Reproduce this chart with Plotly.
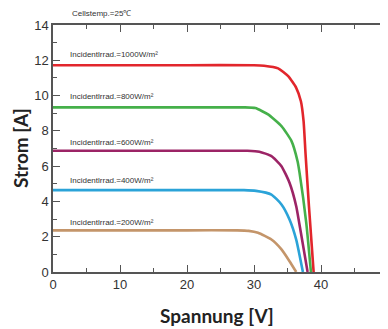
import plotly.graph_objects as go

# Data: voltage [V], current [A]
labels = ["1000", "800", "600", "400", "200"]
v_1000 = [0, 10, 20, 30.0, 31.5, 33.6, 35.1, 36.3, 37.0, 37.4, 37.7, 38.2, 38.9]
i_1000 = [11.72, 11.72, 11.72, 11.72, 11.69, 11.54, 11.1, 10.44, 9.68, 8.55, 6.66, 3.73, 0]
v_800 = [0, 10, 20, 28.5, 30.2, 32.1, 34.1, 35.6, 36.5, 36.8, 37.8, 38.5]
i_800 = [9.33, 9.33, 9.33, 9.33, 9.29, 8.93, 8.27, 7.42, 6.28, 5.62, 2.79, 0]
v_600 = [0, 10, 20, 29.0, 30.8, 32.6, 34.1, 35.3, 36.3, 37.0, 38.0]
i_600 = [6.87, 6.87, 6.87, 6.87, 6.82, 6.57, 6.0, 5.06, 3.73, 2.22, 0]
v_400 = [0, 10, 20, 28.5, 30.3, 32.6, 34.1, 35.3, 36.3, 37.3]
i_400 = [4.64, 4.64, 4.64, 4.64, 4.60, 4.39, 3.83, 2.98, 1.84, 0]
v_200 = [0, 10, 20, 27.5, 29.2, 30.6, 32.6, 34.1, 35.3, 36.3]
i_200 = [2.36, 2.36, 2.36, 2.36, 2.33, 2.22, 1.84, 1.28, 0.61, 0]
label_y = [12.33, 9.95, 7.32, 5.19, 2.79]

series = [
    (v_1000, i_1000, "#e2262c"),
    (v_800, i_800, "#45b04a"),
    (v_600, i_600, "#9c2466"),
    (v_400, i_400, "#2ba3d8"),
    (v_200, i_200, "#c4956a"),
]

fig = go.Figure()
for (v, i, c), lab in zip(series, labels):
    fig.add_trace(go.Scatter(x=v, y=i, mode="lines", line=dict(color=c, width=2.6, shape="spline", smoothing=0.5),
                             name=lab, showlegend=False, hoverinfo="skip"))

for lab, ly in zip(labels, label_y):
    fig.add_annotation(x=2.2, y=ly, xref="x", yref="y", text=f"Incidentlrrad.={lab}W/m²",
                       showarrow=False, xanchor="left", yanchor="middle",
                       font=dict(family="Liberation Sans, Arial", size=8, color="#333"))

axis_common = dict(showline=True, linecolor="#555", linewidth=1.5, mirror="ticks", ticks="inside",
                   tickcolor="#555", tickwidth=1.3, ticklen=7, showgrid=False, zeroline=False,
                   automargin=False,
                   tickfont=dict(family="Liberation Sans, Arial", size=13, color="#333"))

fig.update_xaxes(range=[0, 50], dtick=10, tick0=0,
                 minor=dict(dtick=5, ticks="inside", ticklen=4, tickcolor="#555", tickwidth=1.2, showgrid=False),
                 **axis_common)
fig.update_yaxes(range=[0, 14], dtick=2, tick0=0,
                 minor=dict(dtick=1, ticks="inside", ticklen=4, tickcolor="#555", tickwidth=1.2, showgrid=False),
                 **axis_common)

# page has an 8px body margin, so the figure is sized/offset to compensate
W, H, OFF = 380, 321, 8
L, T, B, R = 45, 17, 57, 0
fig.update_layout(
    width=W, height=H,
    margin=dict(l=L, r=R, t=T, b=B, autoexpand=False),
    plot_bgcolor="white", paper_bgcolor="white",
)

pw, ph = W - L - R, H - T - B
def px_to_paper(px, py):
    fx, fy = px - OFF, py - OFF
    return (fx - L) / pw, (H - B - fy) / ph

x, y = px_to_paper(101, 14)
fig.add_annotation(x=x, y=y, xref="paper", yref="paper", text="Cellstemp.=25℃", showarrow=False,
                   xanchor="center", yanchor="middle",
                   font=dict(family="Liberation Sans, Arial", size=8, color="#333"))
x, y = px_to_paper(217, 315)
fig.add_annotation(x=x, y=y, xref="paper", yref="paper", text="<b>Spannung [V]</b>", showarrow=False,
                   xanchor="center", yanchor="middle",
                   font=dict(family="Lato", size=19, color="#222"))
x, y = px_to_paper(20, 148)
fig.add_annotation(x=x, y=y, xref="paper", yref="paper", text="<b>Strom [A]</b>", showarrow=False,
                   xanchor="center", yanchor="middle",
                   textangle=-90, font=dict(family="Lato", size=19, color="#222"))

fig.write_html("out.html")
